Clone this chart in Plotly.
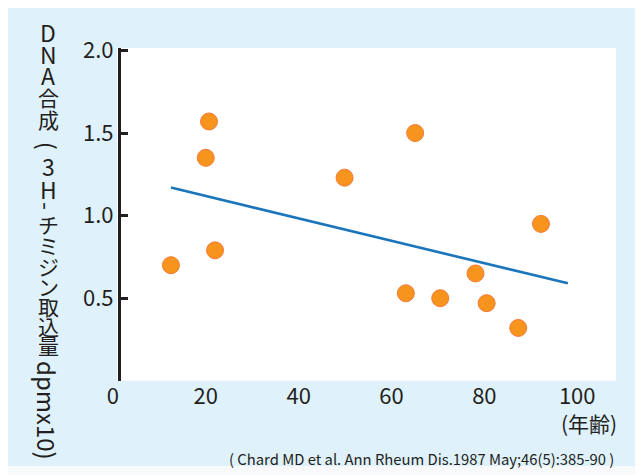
import plotly.graph_objects as go

# ---- data ----
age = [12.5, 20.0, 20.7, 22.0, 49.9, 63.1, 65.1, 70.5, 78.1, 80.5, 87.3, 92.2]
dna = [0.70, 1.35, 1.57, 0.79, 1.23, 0.53, 1.50, 0.50, 0.65, 0.47, 0.32, 0.95]
fit_x = [12.5, 98.0]
fit_y = [1.17, 0.59]
x_ticks = [0, 20, 40, 60, 80, 100]
y_ticks = [0.5, 1.0, 1.5, 2.0]
x_minor_ticks = [20, 40, 60, 80, 100]
title_chars = ["D", "N", "A", "合", "成", "(", "3", "H", "-", "チ", "ミ", "ジ", "ン", "取", "込", "量"]
title_tail = "dpmx10)"
x_unit = "(年齢)"
citation = "( Chard MD et al. Ann Rheum Dis.1987 May;46(5):385-90 )"

W, H = 643, 475
OFF = 8  # page margin of the viewer
FONT = "Noto Sans CJK JP"
INK = "#231f20"

# vertical-writing layout of the y title (pixel centre of each glyph)
title_cy = [32, 54, 75, 97, 119, 146, 166, 189, 206, 224, 245, 266, 286, 306, 326, 345]


def px(x):
    return (x - OFF) / W


def py(y):
    return (H - (y - OFF)) / H


fig = go.Figure()
fig.add_trace(go.Scatter(x=fit_x, y=fit_y, mode="lines",
                         line=dict(color="#1b75bb", width=2.6),
                         hoverinfo="skip", showlegend=False))
fig.add_trace(go.Scatter(x=age, y=dna, mode="markers",
                         marker=dict(size=17, color="#f7941d",
                                     line=dict(color="#f47a3a", width=1)),
                         showlegend=False))

annotations = []
for ch, cy in zip(title_chars, title_cy):
    rotated = ch in "(-"
    latin = ch.isascii()
    annotations.append(dict(text=ch, x=px(48), y=py(cy), xref="paper", yref="paper",
                            xanchor="center", yanchor="middle", showarrow=False,
                            textangle=90 if rotated else 0,
                            font=dict(family=FONT, size=23 if latin else 21, color=INK)))
annotations.append(dict(text=title_tail, x=px(48), y=py(410), xref="paper", yref="paper",
                        xanchor="center", yanchor="middle", showarrow=False, textangle=90,
                        font=dict(family=FONT, size=24, color=INK)))
annotations.append(dict(text=x_unit, x=px(589), y=py(423), xref="paper", yref="paper",
                        xanchor="center", yanchor="middle", showarrow=False,
                        font=dict(family=FONT, size=21, color=INK)))
annotations.append(dict(text=citation, x=px(616), y=py(458), xref="paper", yref="paper",
                        xanchor="right", yanchor="middle", showarrow=False,
                        font=dict(family=FONT, size=14.8, color=INK)))

shapes = [
    dict(type="rect", xref="paper", yref="paper", x0=0, x1=1.0, y0=py(466), y1=1.0,
         fillcolor="#dff1fa", line=dict(width=0), layer="below"),
    dict(type="rect", xref="paper", yref="paper", x0=px(117), x1=px(616), y0=py(380.8), y1=py(48),
         fillcolor="#ffffff", line=dict(width=0), layer="below"),
]

fig.update_layout(
    width=W, height=H, autosize=False,
    margin=dict(l=0, r=0, t=0, b=0, pad=0),
    paper_bgcolor="#f7f9fa", plot_bgcolor="rgba(0,0,0,0)",
    font=dict(family=FONT, color=INK),
    showlegend=False,
    shapes=shapes, annotations=annotations,
    xaxis=dict(domain=[px(112.9), px(616)], range=[0, (616 - 112.9) / 4.643],
               anchor="y", showline=False, ticks="", showgrid=False, zeroline=False,
               automargin=False,
               tickvals=x_ticks, ticktext=[str(v) for v in x_ticks],
               tickfont=dict(family=FONT, size=22, color=INK)),
    xaxis3=dict(domain=[px(119), px(611.8)], range=[-0.82, 100], anchor="y",
                showline=True, linewidth=3, linecolor=INK, automargin=False,
                ticks="inside", ticklen=9, tickwidth=2.5, tickcolor=INK,
                tickvals=x_minor_ticks, showticklabels=False,
                showgrid=False, zeroline=False),
    yaxis=dict(domain=[py(380.8), py(48)], range=[0, (380.8 - 48) / 165.15],
               anchor="free", position=px(119), side="left", automargin=False,
               showline=True, linewidth=3, linecolor=INK,
               ticks="inside", ticklen=7, tickwidth=2.5, tickcolor=INK,
               tickvals=y_ticks, ticktext=[f"{v:.1f}" for v in y_ticks],
               tickfont=dict(family=FONT, size=22, color=INK),
               showgrid=False, zeroline=False),
)

fig.write_html("out.html")
